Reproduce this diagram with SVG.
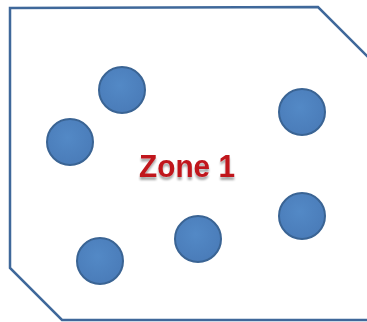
<svg xmlns="http://www.w3.org/2000/svg" width="367" height="322" viewBox="0 0 367 322">
<defs>
<radialGradient id="g" cx="0.45" cy="0.4" r="0.6">
<stop offset="0" stop-color="#5389C6"/>
<stop offset="1" stop-color="#4A7CB9"/>
</radialGradient>
<filter id="sh" x="-10%" y="-20%" width="120%" height="160%">
<feGaussianBlur in="SourceAlpha" stdDeviation="1.2"/>
<feOffset dx="0" dy="3" result="b"/>
<feComponentTransfer><feFuncA type="linear" slope="0.35"/></feComponentTransfer>
<feMerge><feMergeNode/><feMergeNode in="SourceGraphic"/></feMerge>
</filter>
</defs>
<style>
.node{fill:url(#g);stroke:#3A6494;stroke-width:2}
.zone{fill:#fff;stroke:#3F689A;stroke-width:2.5}
.lbl{font-family:"Liberation Sans",Arial,sans-serif;font-weight:bold;font-size:32px;fill:#C0181F}
</style>
<g id="zone">
<polygon class="zone" points="10,8 318,7 369,58 369,320 62,320 10,268"/>
</g>
<g id="connectors"></g>
<g id="n1"><circle class="node" cx="122" cy="90" r="23"/></g>
<g id="n2"><circle class="node" cx="70" cy="142" r="23"/></g>
<g id="n3"><circle class="node" cx="302" cy="112" r="23"/></g>
<g id="n4"><circle class="node" cx="198" cy="239" r="23"/></g>
<g id="n5"><circle class="node" cx="302" cy="216" r="23"/></g>
<g id="n6"><circle class="node" cx="100" cy="261" r="23"/></g>
<g id="label"><text class="lbl" x="139" y="177" textLength="96" lengthAdjust="spacingAndGlyphs" filter="url(#sh)">Zone 1</text></g>
</svg>
